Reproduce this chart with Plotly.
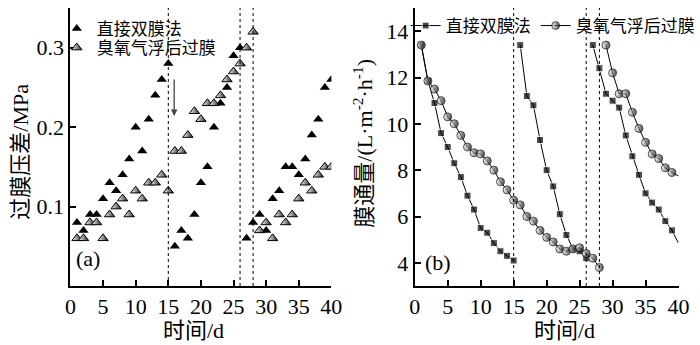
import plotly.graph_objects as go

# ---------------- data ----------------
# (a) trans-membrane pressure, MPa
tmp_direct_days = list(range(1, 41))
tmp_direct = [0.08, 0.07, 0.09, 0.09, 0.11, 0.13, 0.12, 0.14, 0.16, 0.20,
              0.17, 0.21, 0.24, 0.26, 0.28,
              0.05, 0.07, 0.06, 0.09, 0.13, 0.15, 0.20, 0.23, 0.25, 0.29, 0.30,
              0.06, 0.08, 0.09, 0.07, 0.11, 0.12, 0.15, 0.15, 0.14, 0.16,
              0.19, 0.21, 0.25, 0.26]
tmp_ozone_days = list(range(1, 41))
tmp_ozone = [0.06, 0.06, 0.08, 0.08, 0.06, 0.09, 0.10, 0.11, 0.09, 0.12,
             0.11, 0.13, 0.13, 0.14, 0.12, 0.17, 0.17, 0.19, 0.22, 0.21,
             0.23, 0.23, 0.24, 0.26, 0.27, 0.28, 0.30, 0.32,
             0.07, 0.08, 0.06, 0.09, 0.08, 0.09, 0.11, 0.13, 0.12, 0.14,
             0.15, 0.15]

# (b) membrane flux, L/(m2 h)
flux_direct_days = list(range(1, 41))
flux_direct = [13.4, 11.85, 10.9, 9.6, 9.0, 8.3, 7.7, 6.9, 6.3, 5.5,
               5.3, 4.85, 4.5, 4.3, 4.1,
               13.4, 11.2, 10.8, 9.3, 8.0, 7.3, 6.1, 5.2, 4.6, 4.5, 4.2,
               13.4, 12.4, 11.3, 11.0, 10.7, 9.5, 8.6, 7.8, 7.0, 6.6,
               6.3, 5.8, 5.4, 4.85]
flux_direct_run_starts = [1, 16, 27]

flux_ozone_days = list(range(1, 41))
flux_ozone = [13.4, 11.85, 11.5, 11.0, 10.3, 10.0, 9.5, 9.0, 8.75, 8.7,
              8.4, 8.0, 7.5, 7.15, 6.7, 6.5, 6.0, 5.8, 5.4, 5.1,
              4.9, 4.6, 4.5, 4.6, 4.65, 4.4, 4.2, 3.8,
              13.4, 12.2, 11.3, 11.3, 10.5, 9.8, 9.2, 8.7, 8.5, 8.1,
              7.9, 7.75]
flux_ozone_run_starts = [1, 29]

cleaning_days = [15, 26, 28]

series_names = ["直接双膜法", "臭氧气浮后过膜"]
x_ticks = [0, 5, 10, 15, 20, 25, 30, 35, 40]
tmp_ticks = [0.1, 0.2, 0.3]
tmp_tick_text = ["0.1", "0.2", "0.3"]
flux_ticks = [4, 6, 8, 10, 12, 14]

# ---------------- helpers ----------------
XMAX = 40


def broken(dlist, vals, starts):
    xs, ys = [], []
    for d, v in zip(dlist, vals):
        if d in starts and xs:
            xs.append(None)
            ys.append(None)
        xs.append(d)
        ys.append(v)
    return xs, ys


FONT = "Liberation Serif, Times New Roman, Noto Sans CJK SC, serif"
W, H = 700, 345


def px(x):
    return x / W


def py(y):
    return 1 - y / H


fig = go.Figure()

# ---- panel (a) ----
fig.add_trace(go.Scatter(
    x=tmp_direct_days, y=tmp_direct, mode="markers", name=series_names[0],
    marker=dict(symbol="triangle-up", size=9, color="black"),
    xaxis="x", yaxis="y", legend="legend", showlegend=True))
fig.add_trace(go.Scatter(
    x=tmp_ozone_days, y=tmp_ozone, mode="markers", name=series_names[1],
    marker=dict(symbol="triangle-up", size=9, color="white",
                gradient=dict(type="horizontal", color="#222"),
                line=dict(color="black", width=1)),
    xaxis="x", yaxis="y", legend="legend3", showlegend=True))

# ---- panel (b) ----
bx, by = broken(flux_direct_days, flux_direct, flux_direct_run_starts)
fig.add_trace(go.Scatter(
    x=bx, y=by, mode="lines+markers", name=series_names[0],
    line=dict(color="black", width=1),
    marker=dict(symbol="square", color="black",
                size=[0 if (d is not None and d >= XMAX) else 7 for d in bx]),
    xaxis="x2", yaxis="y2", legend="legend2", showlegend=True))
ox, oy = broken(flux_ozone_days, flux_ozone, flux_ozone_run_starts)
fig.add_trace(go.Scatter(
    x=ox, y=oy, mode="lines+markers", name=series_names[1],
    line=dict(color="black", width=1),
    marker=dict(symbol="circle", color="white",
                gradient=dict(type="horizontal", color="black"),
                line=dict(color="black", width=1),
                size=[0 if (d is not None and d >= XMAX) else 8 for d in ox]),
    xaxis="x2", yaxis="y2", legend="legend2", showlegend=True))

# dotted cleaning lines
shapes = []
for xr, yr in [("x", "y"), ("x2", "y2")]:
    for d in cleaning_days:
        shapes.append(dict(type="line", xref=xr, yref=yr + " domain",
                           x0=d, x1=d, y0=0, y1=1,
                           line=dict(color="black", width=1, dash="dot")))

axis_common = dict(showline=True, linewidth=2, linecolor="black", showgrid=False,
                   zeroline=False, ticks="inside", ticklen=6, tickwidth=2,
                   tickcolor="black", tickfont=dict(family=FONT, size=22, color="black"))

ytop, ybot = 8, 286
leg_common = dict(xanchor="left", yanchor="top", bgcolor="rgba(0,0,0,0)",
                  font=dict(family=FONT, size=17, color="black"), itemwidth=30)
fig.update_layout(
    width=W, height=H, margin=dict(l=0, r=0, t=0, b=0),
    paper_bgcolor="white", plot_bgcolor="white",
    font=dict(family=FONT, color="black"),
    showlegend=True,
    shapes=shapes,
    xaxis=dict(domain=[px(67), px(334)], range=[0, 40], tickvals=x_ticks,
               anchor="y", **axis_common),
    yaxis=dict(domain=[py(ybot), py(ytop)], range=[0, 0.35], tickvals=tmp_ticks,
               ticktext=tmp_tick_text, anchor="x", **axis_common),
    xaxis2=dict(domain=[px(419.3), px(689.3)], range=[0, 40], tickvals=x_ticks,
                anchor="y2", **axis_common),
    yaxis2=dict(domain=[py(ybot), py(ytop)], range=[3, 15], tickvals=flux_ticks,
                anchor="x2", **axis_common),
    legend=dict(x=px(53), y=py(11), **leg_common),
    legend3=dict(x=px(53), y=py(30), **leg_common),
    legend2=dict(x=px(410), y=py(8), orientation="h", **leg_common),
)

ann_font = dict(family=FONT, size=22, color="black")


def lab(text, x, y, angle=0):
    return dict(text=text, x=px(x), y=py(y), xref="paper", yref="paper",
                xanchor="center", yanchor="middle", showarrow=False,
                textangle=angle, font=ann_font)


annotations = [
    lab("时间/d", 193, 330),
    lab("时间/d", 573, 330),
    lab("过膜压差/MPa", 15, 152, -90),
    lab("膜通量/(L·m<sup>-2</sup>·h<sup>-1</sup>)", 366, 143, -90),
    lab("(a)", 85, 258),
    lab("(b)", 443, 262),
    dict(text="", x=15.9, y=0.214, ax=15.9, ay=0.262, xref="x", yref="y",
         axref="x", ayref="y", showarrow=True, arrowhead=2, arrowsize=1,
         arrowwidth=1.3, arrowcolor="#444"),
]
fig.update_layout(annotations=annotations)

fig.write_html("out.html")
